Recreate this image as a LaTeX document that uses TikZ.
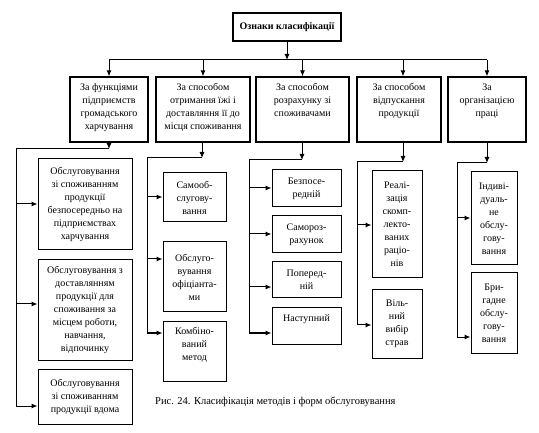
\documentclass[tikz,border=0pt]{standalone}
\usepackage{fontspec}
\setmainfont{Liberation Serif}
\usetikzlibrary{arrows.meta}
\begin{document}
\begin{tikzpicture}[x=1pt,y=-1pt,
  txt/.style={inner sep=0pt, align=center, font=\fontsize{10}{13}\selectfont},
  box/.style={draw, line width=1pt, inner sep=0pt, align=center, font=\fontsize{10}{13}\selectfont},
  catbox/.style={draw, line width=1.3pt, inner sep=0pt},
  ln/.style={line width=1pt},
  arr/.style={line width=1pt, -{Latex[length=6pt,width=5pt]}}
]
\useasboundingbox (0,0) rectangle (539,433);

% top
\node[draw, line width=1.3pt, minimum width=108pt, minimum height=28pt, inner sep=0pt, font=\bfseries\fontsize{10}{13}\selectfont] (top) at (287,27) {Ознаки класифікації};

% categories
\node[catbox, minimum width=78pt, minimum height=65pt] (c1) at (109,109.5) {};
\node[catbox, minimum width=94pt, minimum height=65pt] (c2) at (203,109.5) {};
\node[catbox, minimum width=93pt, minimum height=65pt] (c3) at (302.5,109.5) {};
\node[catbox, minimum width=84pt, minimum height=65pt] (c4) at (399,109.5) {};
\node[catbox, minimum width=78pt, minimum height=65pt] (c5) at (487,109.5) {};
\node[txt, anchor=north] (t1) at ([yshift=-7pt]c1.north) {За функціями\\підприємств\\громадського\\харчування};
\node[txt, anchor=north] (t2) at ([yshift=-7pt]c2.north) {За способом\\отримання їжі і\\доставляння її до\\місця споживання};
\node[txt, anchor=north] (t3) at ([yshift=-7pt]c3.north) {За способом\\розрахунку зі\\споживачами};
\node[txt, anchor=north] (t4) at ([yshift=-7pt]c4.north) {За способом\\відпускання\\продукції};
\node[txt, anchor=north] (t5) at ([yshift=-7pt]c5.north) {За\\організацією\\праці};

% column 1
\node[box, minimum width=94pt, minimum height=91pt] (a1) at (85,204.5) {Обслуговування\\зі споживанням\\продукції\\безпосередньо на\\підприємствах\\харчування};
\node[box, minimum width=94pt, minimum height=100pt] (a2) at (85,310) {Обслуговування з\\доставлянням\\продукції для\\споживання за\\місцем роботи,\\навчання,\\відпочинку};
\node[box, minimum width=94pt, minimum height=55pt] (a3) at (85,396.5) {Обслуговування\\зі споживанням\\продукції вдома};

% column 2
\node[box, minimum width=63pt, minimum height=49pt] (b1) at (194.5,197.5) {Самооб-\\слугову-\\вання};
\node[box, minimum width=63pt, minimum height=70pt] (b2) at (194.5,277) {Обслуго-\\вування\\офіціанта-\\ми};
\node[draw, line width=1pt, minimum width=63pt, minimum height=59pt] (b3) at (194.5,351.5) {};
\node[txt, anchor=north] (b3t) at ([yshift=-6pt]b3.north) {Комбіно-\\ваний\\метод};

% column 3
\node[box, minimum width=69pt, minimum height=37pt] (d1) at (306.5,188.5) {Безпосе-\\редній};
\node[box, minimum width=69pt, minimum height=37pt] (d2) at (306.5,234.5) {Самороз-\\рахунок};
\node[box, minimum width=69pt, minimum height=36pt] (d3) at (306.5,280) {Поперед-\\ній};
\node[draw, line width=1pt, minimum width=69pt, minimum height=36pt] (d4) at (306.5,326) {};
\node[txt, anchor=north] (d4t) at ([yshift=-7pt]d4.north) {Наступний};

% column 4
\node[box, minimum width=50pt, minimum height=107pt] (e1) at (397,224.5) {Реалі-\\зація\\скомп-\\лекто-\\ваних\\раціо-\\нів};
\node[box, minimum width=50pt, minimum height=68pt] (e2) at (397,324) {Віль-\\ний\\вибір\\страв};

% column 5
\node[box, minimum width=46pt, minimum height=93pt] (f1) at (494,218.5) {Індиві-\\дуаль-\\не\\обслу-\\гову-\\вання};
\node[box, minimum width=46pt, minimum height=80pt] (f2) at (494,313) {Бри-\\гадне\\обслу-\\гову-\\вання};

% caption
\node[inner sep=0pt, font=\fontsize{10.5}{13}\selectfont, anchor=west] (cap) at (155,402) {Рис. 24. Класифікація методів і форм обслуговування};

% top bus
\coordinate (bus) at (0,60);
\coordinate (x4) at (403,0);
\draw[arr] (top.south) -- (top.south |- bus);
\draw[ln] (c1.north |- bus) -- (c5.north |- bus);
\draw[arr] (c1.north |- bus) -- (c1.north);
\draw[arr] (c2.north |- bus) -- (c2.north);
\draw[arr] (c3.north |- bus) -- (c3.north);
\draw[arr] (x4 |- bus) -- (x4 |- c4.north);
\draw[arr] (c5.north |- bus) -- (c5.north);

% column 1 connectors
\coordinate (h1) at (16,149);
\coordinate (k1) at (16,406);
\coordinate (ya1) at (0,204);
\coordinate (ya2) at (0,304);
\draw[arr] (c1.south) -- (c1.south |- h1);
\draw[ln] (c1.south |- h1) -- (h1) -- (k1);
\draw[arr] (h1 |- ya1) -- (a1.west |- ya1);
\draw[arr] (h1 |- ya2) -- (a2.west |- ya2);
\draw[arr] (k1) -- (a3.west |- k1);

% column 2 connectors
\coordinate (x2) at (202,0);
\coordinate (h2) at (147,158);
\coordinate (k2) at (147,333);
\coordinate (yb1) at (0,197);
\coordinate (yb2) at (0,259);
\draw[arr] (x2 |- c2.south) -- (x2 |- h2);
\draw[ln] (x2 |- h2) -- (h2) -- (k2);
\draw[arr] (h2 |- yb1) -- (b1.west |- yb1);
\draw[arr] (h2 |- yb2) -- (b2.west |- yb2);
\draw[arr] (k2) -- (b3.west |- k2);

% column 3 connectors
\coordinate (x3) at (302,0);
\coordinate (h3) at (249,160);
\coordinate (k3) at (249,333);
\coordinate (yd1) at (0,188);
\coordinate (yd2) at (0,234);
\coordinate (yd3) at (0,287);
\draw[arr] (x3 |- c3.south) -- (x3 |- h3);
\draw[ln] (x3 |- h3) -- (h3) -- (k3);
\draw[arr] (h3 |- yd1) -- (d1.west |- yd1);
\draw[arr] (h3 |- yd2) -- (d2.west |- yd2);
\draw[arr] (h3 |- yd3) -- (d3.west |- yd3);
\draw[arr] (k3) -- (d4.west |- k3);

% column 4 connectors
\coordinate (h4) at (357,162);
\coordinate (k4) at (357,325);
\coordinate (ye1) at (0,225);
\draw[arr] (x4 |- c4.south) -- (x4 |- h4);
\draw[ln] (x4 |- h4) -- (h4) -- (k4);
\draw[arr] (h4 |- ye1) -- (e1.west |- ye1);
\draw[arr] (k4) -- (e2.west |- k4);

% column 5 connectors
\coordinate (h5) at (457,163);
\coordinate (k5) at (457,337);
\coordinate (yf1) at (0,218);
\draw[arr] (c5.south) -- (c5.south |- h5);
\draw[ln] (c5.south |- h5) -- (h5) -- (k5);
\draw[arr] (h5 |- yf1) -- (f1.west |- yf1);
\draw[arr] (k5) -- (f2.west |- k5);
\end{tikzpicture}
\end{document}
